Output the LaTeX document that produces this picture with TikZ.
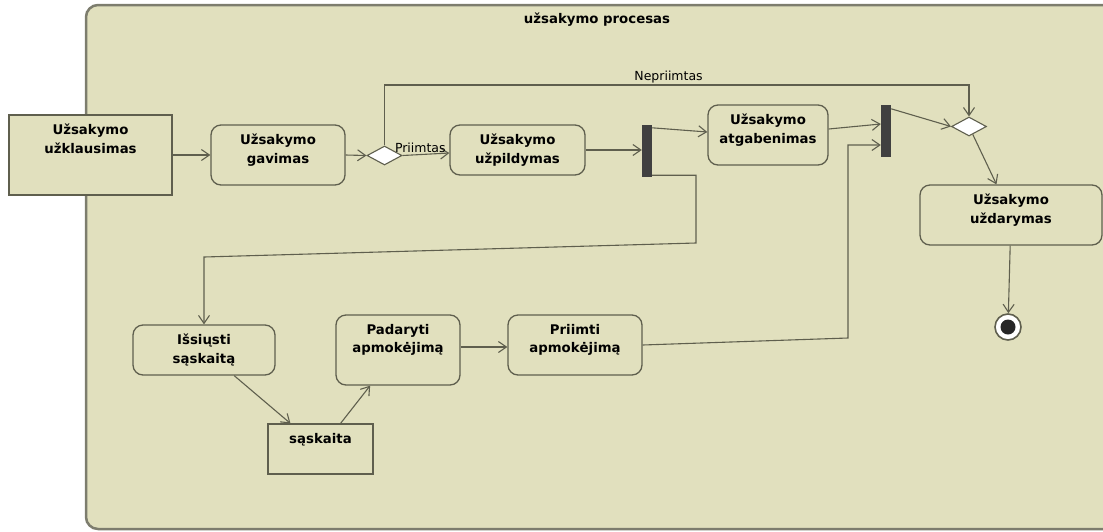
\documentclass[tikz,border=0pt]{standalone}
\usepackage{fontspec}
\setmainfont{DejaVu Sans}
\usetikzlibrary{arrows.meta,shapes.geometric,calc}
\definecolor{bgfill}{RGB}{225,224,190}
\definecolor{framec}{RGB}{125,125,110}
\definecolor{edgec}{RGB}{95,95,78}
\definecolor{barc}{RGB}{64,64,64}
\tikzset{
  act/.style={draw=edgec, fill=bgfill, line width=1.3pt, rounded corners=10pt, inner sep=0pt},
  obj/.style={draw=edgec, fill=bgfill, line width=1.1pt, inner sep=0pt},
  txt/.style={font=\bfseries\fontsize{13.3}{18.5}\selectfont, align=center, inner sep=0pt, anchor=north},
  lab/.style={font=\fontsize{12.5}{15}\selectfont, inner sep=1.5pt},
  bar/.style={fill=barc, draw=none, inner sep=0pt, minimum width=10, minimum height=52},
  decis/.style={diamond, draw=edgec, fill=white, line width=1.1pt, inner sep=0pt, minimum width=35, minimum height=19},
  flow/.style={draw=edgec, line width=1.1pt, -{Straight Barb[length=8pt,width=11pt,line width=1.1pt]}},
}
\begin{document}
\begin{tikzpicture}[x=1pt,y=-1pt]
\useasboundingbox (0,0) rectangle (1103,531);
\clip (0,0) rectangle (1103,531);
% frame
\draw[draw=framec, fill=bgfill, line width=2.5pt, rounded corners=12pt] (86,5) rectangle (1120,529);
\node[font=\bfseries\fontsize{13.3}{16}\selectfont, inner sep=0pt] (title) at (597,20) {užsakymo procesas};

% boxes
\node[obj, minimum width=163, minimum height=80] (ukl) at (90.5,155) {};
\node[txt] (uklT) at ($(ukl.north)+(0,9.5)$) {Užsakymo\\užklausimas};

\node[act, minimum width=134, minimum height=60] (gav) at (278,155) {};
\node[txt] (gavT) at ($(gav.north)+(0,9.5)$) {Užsakymo\\gavimas};

\node[decis] (d1) at (384.5,155.5) {};

\node[act, minimum width=135, minimum height=50] (upl) at (517.5,150) {};
\node[txt] (uplT) at ($(upl.north)+(0,9.5)$) {Užsakymo\\užpildymas};

\node[bar] (bar1) at (647,151) {};

\node[act, minimum width=120, minimum height=60] (atg) at (768,135) {};
\node[txt] (atgT) at ($(atg.north)+(0,9.5)$) {Užsakymo\\atgabenimas};

\node[bar] (bar2) at (886,131) {};

\node[decis] (d2) at (969,126.5) {};

\node[act, minimum width=182, minimum height=60] (uzd) at (1011,215) {};
\node[txt] (uzdT) at ($(uzd.north)+(0,9.5)$) {Užsakymo\\uždarymas};

\node[circle, draw=edgec, fill=white, line width=1.6pt, minimum size=26, inner sep=0pt] (fin) at (1008,327) {};
\node[circle, fill=black!85, minimum size=15, inner sep=0pt] (finIn) at (fin.center) {};

\node[act, minimum width=142, minimum height=50] (isi) at (204,350) {};
\node[txt] (isiT) at ($(isi.north)+(0,9.5)$) {Išsiųsti\\sąskaitą};

\node[obj, minimum width=105, minimum height=50] (sas) at (320.5,449) {};
\node[txt] (sasT) at ($(sas.north)+(0,9.5)$) {sąskaita};

\node[act, minimum width=124, minimum height=70] (pad) at (398,350) {};
\node[txt] (padT) at ($(pad.north)+(0,9.5)$) {Padaryti\\apmokėjimą};

\node[act, minimum width=134, minimum height=60] (pri) at (575,345) {};
\node[txt] (priT) at ($(pri.north)+(0,9.5)$) {Priimti\\apmokėjimą};

% helper coordinates
\coordinate (ktop) at (0,85);
\coordinate (kr1) at (696,243);
\coordinate (kl1) at (204,257);
\coordinate (kr2) at (848,338);
\coordinate (kr3) at (848,145);
\coordinate (kb1) at ($(bar1.south east)+(0,-2)$);

% connectors
\draw[flow] (ukl.east) -- (gav.west);
\draw[flow] (gav.east) -- (d1.west);
\draw[flow] (d1.east) -- ($(upl.west)+(0,3)$) node[lab, pos=0.38, above] (lPri) {Priimtas};
\draw[flow] (d1.north) -- (d1.north |- ktop) -- (d2.north |- ktop) node[lab, pos=0.486, above] (lNep) {Nepriimtas} -- (d2.north);
\draw[flow] (upl.east) -- (upl.east -| bar1.west);
\draw[flow] ($(bar1.north east)+(0,3)$) -- ($(atg.west)+(0,-3)$);
\draw[flow] (kb1) -- (kr1 |- kb1) -- (kr1) -- (isi.north |- kl1) -- (isi.north);
\draw[flow] (isi) -- (sas);
\draw[flow] (sas) -- (pad);
\draw[flow] ($(pad.east)+(0,-3)$) -- ($(pri.west)+(0,2)$);
\draw[flow] (pri.east) -- (kr2) -- (kr3) -- (kr3 -| bar2.west);
\draw[flow] ($(atg.east)+(0,-6)$) -- ($(bar2.west)+(0,-7)$);
\draw[flow] ($(bar2.north east)+(0,4)$) -- (d2.west);
\draw[flow] (d2) -- (uzd);
\draw[flow] (uzd) -- (fin);
\end{tikzpicture}
\end{document}
